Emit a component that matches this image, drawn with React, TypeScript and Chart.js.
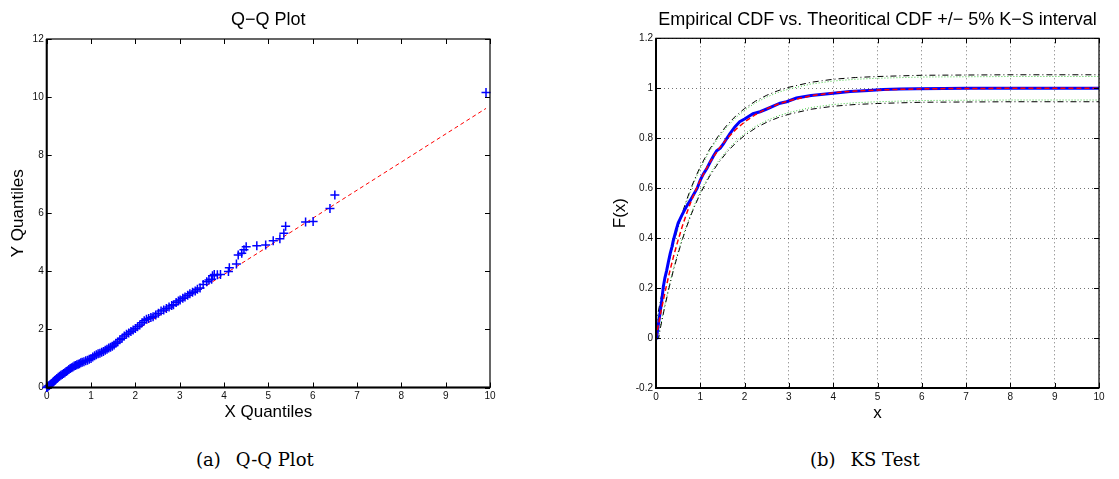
import React, { useEffect, useRef } from 'react';
import { Chart, registerables } from 'chart.js';

Chart.register(...registerables);

const FONT = '"Liberation Sans", Arial, Helvetica, sans-serif';

// ---------- Shared ticks ----------
const xTicks = [0, 1, 2, 3, 4, 5, 6, 7, 8, 9, 10];
const yTicksQQ = [0, 2, 4, 6, 8, 10, 12];
const yTicksKS = [-0.2, 0, 0.2, 0.4, 0.6, 0.8, 1, 1.2];
const yTickLabelsKS = ['-0.2', '0', '0.2', '0.4', '0.6', '0.8', '1', '1.2'];

// ---------- Q-Q plot data ----------
const qqX = [
  0.0, 0.02, 0.04, 0.06, 0.08, 0.1, 0.12, 0.14, 0.16, 0.18, 0.2, 0.23, 0.26, 0.29, 0.32, 0.35, 0.38, 0.41, 0.44, 0.47,
  0.5, 0.53, 0.56, 0.59, 0.62, 0.65, 0.68, 0.71, 0.74, 0.77, 0.8, 0.84, 0.88, 0.92, 0.96, 1.0, 1.04, 1.08, 1.12, 1.16,
  1.2, 1.24, 1.28, 1.32, 1.36, 1.4, 1.44, 1.48, 1.52, 1.56, 1.6, 1.65, 1.7, 1.75, 1.8, 1.85, 1.9, 1.95, 2.0, 2.05,
  2.1, 2.15, 2.2, 2.25, 2.3, 2.35, 2.4, 2.46, 2.52, 2.58, 2.64, 2.7, 2.76, 2.82,
  2.86, 2.92, 2.97, 3.01, 3.07, 3.12, 3.18, 3.23, 3.29, 3.35, 3.4, 3.46, 3.53, 3.61, 3.66, 3.72, 3.74, 3.78, 3.85, 3.92,
  4.1, 4.12, 4.28, 4.32, 4.4, 4.45, 4.5, 4.74, 4.94, 5.11, 5.26, 5.35, 5.39, 5.84, 6.01, 6.39, 6.5, 9.91,
];
const qqY = [
  0.0, 0.02, 0.05, 0.07, 0.1, 0.12, 0.15, 0.18, 0.21, 0.24, 0.27, 0.31, 0.35, 0.39, 0.42, 0.45, 0.48, 0.51, 0.55, 0.58,
  0.62, 0.65, 0.68, 0.71, 0.74, 0.76, 0.78, 0.8, 0.82, 0.85, 0.87, 0.89, 0.92, 0.94, 0.97, 1.0, 1.05, 1.09, 1.13, 1.16,
  1.18, 1.21, 1.24, 1.28, 1.32, 1.36, 1.39, 1.42, 1.46, 1.52, 1.57, 1.64, 1.7, 1.77, 1.83, 1.88, 1.93, 1.98, 2.03, 2.09,
  2.15, 2.23, 2.3, 2.35, 2.38, 2.41, 2.44, 2.5, 2.56, 2.63, 2.67, 2.72, 2.77, 2.82,
  2.85, 2.93, 2.98, 3.01, 3.07, 3.12, 3.18, 3.23, 3.28, 3.32, 3.38, 3.43, 3.55, 3.64, 3.7, 3.73, 3.85, 3.89, 3.88, 3.89,
  3.99, 4.12, 4.25, 4.56, 4.62, 4.74, 4.85, 4.88, 4.91, 5.05, 5.12, 5.31, 5.55, 5.7, 5.72, 6.16, 6.63, 10.16,
];
// reference line (dashed red) and quartile segment (green)
const refLineX = [0, 9.91];
const refLineY = [0.02, 9.61];
const quartLineX = [0.25, 1.4];
const quartLineY = [0.26, 1.37];

// ---------- KS test data ----------
const ecdfX = [
  0, 0.015, 0.05, 0.09, 0.13, 0.165, 0.2, 0.24, 0.28, 0.32, 0.36, 0.39, 0.45, 0.5, 0.54, 0.58, 0.62, 0.7, 0.77, 0.85,
  0.93, 1.0, 1.07, 1.15, 1.22, 1.3, 1.37, 1.45, 1.52, 1.6, 1.67, 1.78, 1.89, 2.0, 2.19, 2.35, 2.5, 2.8, 2.95, 3.17,
  3.5, 4.0, 4.38, 4.8, 5.13, 5.5, 5.88, 6.5, 7, 8, 9, 10,
];
const ecdfY = [
  0, 0.004, 0.05, 0.098, 0.15, 0.204, 0.24, 0.27, 0.305, 0.338, 0.365, 0.39, 0.43, 0.46, 0.475, 0.49, 0.504, 0.53, 0.55, 0.575,
  0.6, 0.632, 0.657, 0.68, 0.704, 0.73, 0.75, 0.76, 0.777, 0.8, 0.818, 0.845, 0.866, 0.877, 0.898, 0.906, 0.917, 0.94, 0.946, 0.961,
  0.971, 0.98, 0.987, 0.991, 0.995, 0.997, 0.998, 0.999, 1, 1, 1, 1,
];
const theoX = [0, 0.05, 0.1, 0.2, 0.3, 0.4, 0.5, 0.6, 0.7, 0.8, 0.9, 1.0, 1.2, 1.4, 1.6, 1.8, 2.0, 2.25, 2.5, 2.75, 3.0, 3.5, 4.0, 4.5, 5, 6, 7, 8, 9, 10];
const theoY = [0, 0.049, 0.095, 0.181, 0.259, 0.33, 0.393, 0.451, 0.503, 0.551, 0.593, 0.632, 0.699, 0.753, 0.798, 0.835, 0.865, 0.895, 0.918, 0.936, 0.95, 0.97, 0.982, 0.989, 0.993, 0.998, 0.999, 1, 1, 1];
const upperKX = [0, 0.05, 0.1, 0.2, 0.3, 0.4, 0.5, 0.6, 0.7, 0.8, 0.9, 1.0, 1.2, 1.4, 1.6, 1.8, 2.0, 2.25, 2.5, 2.75, 3.0, 3.5, 4.0, 4.5, 5, 6, 7, 8, 9, 10];
const upperKY = [0.054, 0.103, 0.149, 0.235, 0.313, 0.384, 0.447, 0.505, 0.557, 0.605, 0.647, 0.686, 0.753, 0.807, 0.852, 0.889, 0.919, 0.949, 0.972, 0.99, 1.004, 1.024, 1.036, 1.043, 1.047, 1.052, 1.053, 1.054, 1.054, 1.054];
const lowerKX = [0, 0.06, 0.1, 0.2, 0.3, 0.4, 0.5, 0.6, 0.7, 0.8, 0.9, 1.0, 1.2, 1.4, 1.6, 1.8, 2.0, 2.25, 2.5, 2.75, 3.0, 3.5, 4.0, 4.5, 5, 6, 7, 8, 9, 10];
const lowerKY = [0, 0, 0.041, 0.127, 0.205, 0.276, 0.339, 0.397, 0.449, 0.497, 0.539, 0.578, 0.645, 0.699, 0.744, 0.781, 0.811, 0.841, 0.864, 0.882, 0.896, 0.916, 0.928, 0.935, 0.939, 0.944, 0.945, 0.946, 0.946, 0.946];
const upperGY = [0.047, 0.096, 0.142, 0.228, 0.306, 0.377, 0.44, 0.498, 0.55, 0.598, 0.64, 0.679, 0.746, 0.8, 0.845, 0.882, 0.912, 0.942, 0.965, 0.983, 0.997, 1.017, 1.029, 1.036, 1.04, 1.045, 1.046, 1.047, 1.047, 1.047];
const lowerGY = [0, 0.002, 0.048, 0.134, 0.212, 0.283, 0.346, 0.404, 0.456, 0.504, 0.546, 0.585, 0.652, 0.706, 0.751, 0.788, 0.818, 0.848, 0.871, 0.889, 0.903, 0.923, 0.935, 0.942, 0.946, 0.951, 0.952, 0.953, 0.953, 0.953];

const pts = (xs: number[], ys: number[]) => xs.map((x, i) => ({ x, y: ys[i] }));

function framePlugin(title: string) {
  return {
    id: 'matlabFrame',
    afterDraw(chart: any) {
      const { ctx, chartArea: a, scales } = chart;
      const xs = scales.x;
      const ys = scales.y;
      ctx.save();
      ctx.strokeStyle = '#000';
      ctx.lineWidth = 1;
      ctx.beginPath();
      xs.ticks.forEach((t: any) => {
        const p = Math.round(xs.getPixelForValue(t.value)) + 0.5;
        ctx.moveTo(p, a.bottom);
        ctx.lineTo(p, a.bottom - 5);
        ctx.moveTo(p, a.top);
        ctx.lineTo(p, a.top + 5);
      });
      ys.ticks.forEach((t: any) => {
        const p = Math.round(ys.getPixelForValue(t.value)) + 0.5;
        ctx.moveTo(a.left, p);
        ctx.lineTo(a.left + 5, p);
        ctx.moveTo(a.right, p);
        ctx.lineTo(a.right - 5, p);
      });
      ctx.stroke();
      ctx.lineWidth = 1.2;
      ctx.strokeRect(a.left, a.top, a.right - a.left, a.bottom - a.top);
      ctx.lineWidth = 2;
      ctx.beginPath();
      ctx.moveTo(a.left, a.top);
      ctx.lineTo(a.left, a.bottom);
      ctx.lineTo(a.right, a.bottom);
      ctx.stroke();
      ctx.fillStyle = '#000';
      ctx.font = `18px ${FONT}`;
      ctx.textAlign = 'center';
      ctx.textBaseline = 'middle';
      ctx.fillText(title, (a.left + a.right) / 2, 20);
      ctx.restore();
    },
  };
}

function axisX(title: string, height: number, titlePad: number, grid: boolean) {
  return {
    type: 'linear',
    min: 0,
    max: 10,
    afterBuildTicks: (s: any) => {
      s.ticks = xTicks.map((v) => ({ value: v }));
    },
    afterFit: (s: any) => {
      s.height = height;
    },
    ticks: {
      font: { family: FONT, size: 10 },
      color: '#111',
      padding: 3,
      maxRotation: 0,
      autoSkip: false,
      callback: (v: any) => String(v),
    },
    grid: { display: grid, drawTicks: false, color: 'rgba(0,0,0,0.55)', lineWidth: 1 },
    border: { display: false, dash: [1, 3] },
    title: { display: true, text: title, font: { family: FONT, size: 17 }, color: '#000', padding: { top: 0, bottom: titlePad } },
  };
}

function QQChart() {
  const ref = useRef<HTMLCanvasElement | null>(null);
  useEffect(() => {
    if (!ref.current) return;
    const chart = new Chart(ref.current, {
      type: 'scatter',
      data: {
        datasets: [
          {
            label: 'samples',
            data: pts(qqX, qqY),
            pointStyle: 'cross',
            pointRadius: 4.5,
            pointBorderWidth: 1.5,
            borderColor: '#0000ff',
            backgroundColor: '#0000ff',
            showLine: false,
            clip: false,
            order: 0,
          } as any,
          {
            label: 'quartile',
            data: pts(quartLineX, quartLineY),
            showLine: true,
            borderColor: '#00aa00',
            borderWidth: 1,
            borderDash: [4, 3],
            pointRadius: 0,
            order: 1,
          },
          {
            label: 'reference',
            data: pts(refLineX, refLineY),
            showLine: true,
            borderColor: '#ff0000',
            borderWidth: 1,
            borderDash: [4, 3],
            pointRadius: 0,
            order: 2,
          },
        ],
      },
      options: {
        responsive: false,
        animation: false,
        layout: { padding: { left: 0, top: 39, right: 70, bottom: 0 } },
        plugins: { legend: { display: false }, tooltip: { enabled: false }, title: { display: false } },
        scales: {
          x: axisX('X Quantiles', 42.5, 7.8, false) as any,
          y: {
            type: 'linear',
            min: 0,
            max: 12,
            afterBuildTicks: (s: any) => {
              s.ticks = yTicksQQ.map((v) => ({ value: v }));
            },
            afterFit: (s: any) => {
              s.width = 46.7;
            },
            ticks: { font: { family: FONT, size: 10 }, color: '#111', padding: 3, autoSkip: false, callback: (v: any) => String(v) },
            grid: { display: false, drawTicks: false },
            border: { display: false },
            title: { display: true, text: 'Y Quantiles', font: { family: FONT, size: 17 }, color: '#000', padding: { top: 7.8, bottom: 0 } },
          },
        },
      },
      plugins: [framePlugin('Q\u2212Q Plot')],
    } as any);
    return () => chart.destroy();
  }, []);
  return <canvas ref={ref} width={560} height={430} style={{ position: 'absolute', left: 0, top: 0 }} />;
}

function KSChart() {
  const ref = useRef<HTMLCanvasElement | null>(null);
  useEffect(() => {
    if (!ref.current) return;
    const line = (label: string, xs: number[], ys: number[], color: string, width: number, dash: number[], order: number) => ({
      label,
      data: pts(xs, ys),
      showLine: true,
      borderColor: color,
      backgroundColor: color,
      borderWidth: width,
      borderDash: dash,
      pointRadius: 0,
      tension: 0,
      order,
    });
    const chart = new Chart(ref.current, {
      type: 'scatter',
      data: {
        datasets: [
          line('Theoretical CDF', theoX, theoY, '#ff0000', 1.5, [5, 3], 0),
          line('Empirical CDF', ecdfX, ecdfY, '#0000ff', 3, [], 1),
          line('Upper K-S', upperKX, upperKY, '#000000', 1, [6, 3, 1, 3], 2),
          line('Lower K-S', lowerKX, lowerKY, '#000000', 1, [6, 3, 1, 3], 2),
          line('Upper bound', theoX, upperGY, '#44cc44', 1, [1, 2], 3),
          line('Lower bound', theoX, lowerGY, '#44cc44', 1, [1, 2], 3),
        ],
      },
      options: {
        responsive: false,
        animation: false,
        layout: { padding: { left: 40, top: 38.3, right: 20, bottom: 0 } },
        plugins: { legend: { display: false }, tooltip: { enabled: false }, title: { display: false } },
        scales: {
          x: axisX('x', 42, 6.8, true) as any,
          y: {
            type: 'linear',
            min: -0.2,
            max: 1.2,
            afterBuildTicks: (s: any) => {
              s.ticks = yTicksKS.map((v) => ({ value: v }));
            },
            afterFit: (s: any) => {
              s.width = 56;
            },
            ticks: {
              font: { family: FONT, size: 10 },
              color: '#111',
              padding: 3,
              autoSkip: false,
              callback: (_v: any, i: number) => yTickLabelsKS[i],
            },
            grid: { display: true, drawTicks: false, color: 'rgba(0,0,0,0.55)', lineWidth: 1 },
            border: { display: false, dash: [1, 3] },
            title: { display: true, text: 'F(x)', font: { family: FONT, size: 17 }, color: '#000', padding: { top: 9.8, bottom: 0 } },
          },
        },
      },
      plugins: [framePlugin('Empirical CDF vs. Theoritical CDF +/\u2212 5% K\u2212S interval')],
    } as any);
    return () => chart.destroy();
  }, []);
  return <canvas ref={ref} width={559} height={430} style={{ position: 'absolute', left: 560, top: 0 }} />;
}

const captionStyle: React.CSSProperties = {
  position: 'absolute',
  top: 451,
  fontFamily: '"DejaVu Serif", "Liberation Serif", serif',
  fontSize: 18,
  lineHeight: '18px',
  color: '#000',
  whiteSpace: 'pre',
};

export default function App() {
  return (
    <div style={{ position: 'absolute', left: 0, top: 0, width: 1119, height: 479, background: '#fff', overflow: 'hidden' }}>
      <QQChart />
      <KSChart />
      <div style={{ ...captionStyle, left: 196 }}>
        <span>(a)</span>
        <span style={{ marginLeft: 15 }}>Q-Q Plot</span>
      </div>
      <div style={{ ...captionStyle, left: 810 }}>
        <span>(b)</span>
        <span style={{ marginLeft: 15 }}>KS Test</span>
      </div>
    </div>
  );
}
